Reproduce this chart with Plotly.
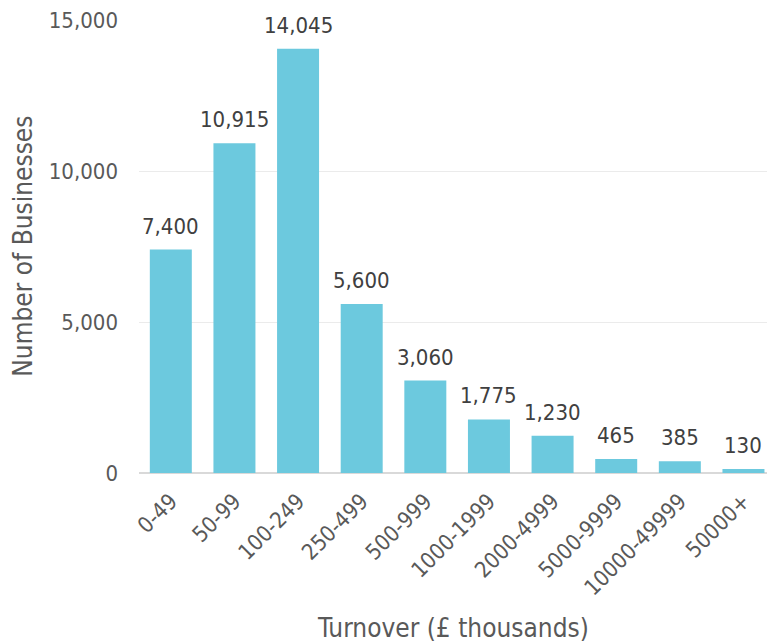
import plotly.graph_objects as go

# Number of businesses by annual turnover band
bands = ["0-49", "50-99", "100-249", "250-499", "500-999", "1000-1999",
         "2000-4999", "5000-9999", "10000-49999", "50000+"]
businesses = [7400, 10915, 14045, 5600, 3060, 1775, 1230, 465, 385, 130]
y_ticks = [0, 5000, 10000, 15000]

FONT = "DejaVu Sans Condensed"
TEXT = "#595959"

fig = go.Figure(
    go.Bar(
        x=bands,
        y=businesses,
        marker=dict(color="#6CC9DE", line=dict(width=0)),
        width=0.66,
        hoverinfo="x+y",
    )
)

# value labels above each bar
value_labels = [
    dict(x=b, y=v, text=f"{v:,}", xref="x", yref="y",
         xanchor="center", yanchor="bottom", yshift=9, showarrow=False,
         font=dict(family=FONT, size=22, color="#404040"))
    for b, v in zip(bands, businesses)
]

fig.update_layout(
    width=767,
    height=642,
    margin=dict(l=139, r=0, t=20, b=169),
    paper_bgcolor="white",
    plot_bgcolor="white",
    showlegend=False,
    font=dict(family=FONT, color=TEXT),
    xaxis=dict(
        range=[-0.5, 9.37],
        tickangle=-45,
        tickfont=dict(family=FONT, size=22, color=TEXT),
        showgrid=False,
        showline=False,
        ticks="",
        ticklabelstandoff=10,
    ),
    yaxis=dict(
        range=[0, 15000],
        tickvals=y_ticks,
        ticktext=[f"{v:,}" for v in y_ticks],
        tickfont=dict(family=FONT, size=22, color=TEXT),
        gridcolor="#EBEBEB",
        gridwidth=1,
        zeroline=True,
        zerolinecolor="#D9D9D9",
        zerolinewidth=2,
        ticklabelstandoff=20,
    ),
    annotations=value_labels + [
        dict(text="Turnover (£ thousands)", xref="paper", yref="paper",
             x=0.5, y=-0.342, xanchor="center", yanchor="middle",
             showarrow=False, font=dict(family=FONT, size=26, color=TEXT)),
        dict(text="Number of Businesses", xref="paper", yref="paper",
             x=-0.186, y=0.5, xanchor="center", yanchor="middle",
             textangle=-90, showarrow=False,
             font=dict(family=FONT, size=26, color=TEXT)),
    ],
)

fig.write_html("out.html")
